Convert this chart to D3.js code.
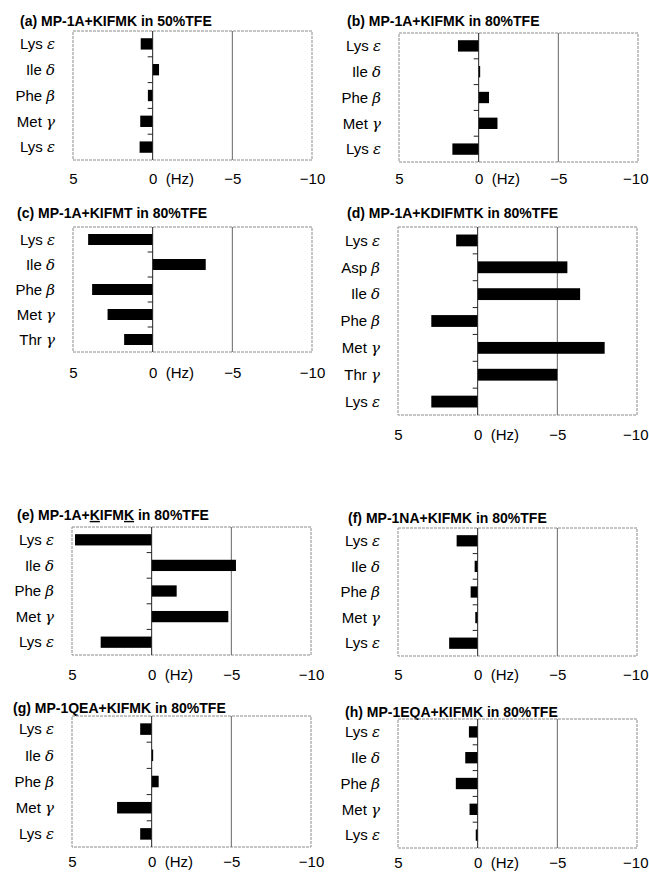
<!DOCTYPE html>
<html>
<head>
<meta charset="utf-8">
<script src="https://cdn.jsdelivr.net/npm/d3@7"></script>
<style>
  body { margin: 0; background: #fff; }
  svg text { font-family: "Liberation Sans", Arial, sans-serif; fill: #000; }
</style>
</head>
<body>
<div id="chart"></div>
<script>
// Chemical shift differences (Hz), 8 small panels

const titles = [
    "(a) MP-1A+KIFMK in 50%TFE",
    "(b) MP-1A+KIFMK in 80%TFE",
    "(c) MP-1A+KIFMT in 80%TFE",
    "(d) MP-1A+KDIFMTK in 80%TFE",
    "(e) MP-1A+KIFMK in 80%TFE",
    "(f) MP-1NA+KIFMK in 80%TFE",
    "(g) MP-1QEA+KIFMK in 80%TFE",
    "(h) MP-1EQA+KIFMK in 80%TFE"
];

// residue labels: [name, greek]
const labelsKIFMK = [["Lys", "ε"], ["Ile", "δ"], ["Phe", "β"], ["Met", "γ"], ["Lys", "ε"]];
const labelsKIFMT = [["Lys", "ε"], ["Ile", "δ"], ["Phe", "β"], ["Met", "γ"], ["Thr", "γ"]];
const labelsKDIFMTK = [["Lys", "ε"], ["Asp", "β"], ["Ile", "δ"], ["Phe", "β"], ["Met", "γ"], ["Thr", "γ"], ["Lys", "ε"]];

const valuesA = [0.75, -0.4, 0.3, 0.78, 0.82];
const valuesB = [1.3, -0.06, -0.65, -1.18, 1.65];
const valuesC = [4.05, -3.33, 3.8, 2.83, 1.79];
const valuesD = [1.35, -5.63, -6.43, 2.91, -7.97, -5.0, 2.91];
const valuesE = [4.81, -5.29, -1.57, -4.81, 3.2];
const valuesF = [1.32, 0.19, 0.44, 0.15, 1.79];
const valuesG = [0.72, -0.08, -0.44, 2.17, 0.72];
const valuesH = [0.55, 0.78, 1.37, 0.51, 0.12];

const xDomain = [5, -10];
const tickValues = [5, 0, -5, -10];
const gridValue = -5;

const panelLabels = [labelsKIFMK, labelsKIFMK, labelsKIFMT, labelsKDIFMTK,
                     labelsKIFMK, labelsKIFMK, labelsKIFMK, labelsKIFMK];
const panelValues = [valuesA, valuesB, valuesC, valuesD, valuesE, valuesF, valuesG, valuesH];

// plot box placement for each panel
const layout = [
    { left: 73,  top: 31,  bottom: 160, titleX: 20,  titleY: 21,  tickY: 179 },
    { left: 399, top: 33,  bottom: 162, titleX: 347, titleY: 21,  tickY: 179 },
    { left: 73,  top: 227, bottom: 352, titleX: 17,  titleY: 213, tickY: 373 },
    { left: 398, top: 227, bottom: 415, titleX: 347, titleY: 213, tickY: 435 },
    { left: 72,  top: 527, bottom: 655, titleX: 17,  titleY: 515, tickY: 675 },
    { left: 398, top: 528, bottom: 656, titleX: 348, titleY: 518, tickY: 675 },
    { left: 72,  top: 716, bottom: 847, titleX: 13,  titleY: 708, tickY: 862 },
    { left: 398, top: 719, bottom: 848, titleX: 345, titleY: 712, tickY: 863 }
];
const plotWidth = 239;

const svg = d3.select("#chart")
    .append("svg")
    .attr("width", 649)
    .attr("height", 874);

panelValues.forEach((values, i) => {
    const L = layout[i];
    const labels = panelLabels[i];
    const g = svg.append("g");

    const x = d3.scaleLinear().domain(xDomain).range([L.left, L.left + plotWidth]);
    const y = d3.scaleBand()
        .domain(d3.range(values.length))
        .range([L.top, L.bottom])
        .paddingInner(0.56)
        .paddingOuter(0.28);

    // title (panel e has underlined K residues)
    const title = g.append("text")
        .attr("x", L.titleX)
        .attr("y", L.titleY)
        .attr("dy", "0.35em")
        .style("font-size", "14px")
        .style("font-weight", "bold");
    if (i === 4) {
        title.append("tspan").text("(e) MP-1A+");
        title.append("tspan").style("text-decoration", "underline").text("K");
        title.append("tspan").text("IFM");
        title.append("tspan").style("text-decoration", "underline").text("K");
        title.append("tspan").text(" in 80%TFE");
    } else {
        title.text(titles[i]);
    }

    // plot frame
    g.append("rect")
        .attr("x", L.left)
        .attr("y", L.top)
        .attr("width", plotWidth)
        .attr("height", L.bottom - L.top)
        .attr("fill", "none")
        .attr("stroke", "#8a8a8a")
        .attr("stroke-width", 1)
        .attr("stroke-dasharray", "3,1");

    // -5 gridline
    g.append("line")
        .attr("x1", x(gridValue)).attr("x2", x(gridValue))
        .attr("y1", L.top).attr("y2", L.bottom)
        .attr("stroke", "#666")
        .attr("stroke-width", 1);

    // bars
    g.selectAll(".bar")
        .data(values)
        .enter()
        .append("rect")
        .attr("class", "bar")
        .attr("x", d => Math.min(x(d), x(0)))
        .attr("y", (d, j) => y(j))
        .attr("width", d => Math.max(1.5, Math.abs(x(d) - x(0))))
        .attr("height", y.bandwidth())
        .attr("fill", "#000");

    // zero axis with small category ticks
    g.append("line")
        .attr("x1", x(0)).attr("x2", x(0))
        .attr("y1", L.top).attr("y2", L.bottom)
        .attr("stroke", "#222")
        .attr("stroke-width", 1);

    g.selectAll(".cat-tick")
        .data(d3.range(1, values.length))
        .enter()
        .append("line")
        .attr("x1", x(0) - 5).attr("x2", x(0))
        .attr("y1", j => y(j) - y.step() * y.paddingInner() / 2)
        .attr("y2", j => y(j) - y.step() * y.paddingInner() / 2)
        .attr("stroke", "#222")
        .attr("stroke-width", 1);

    // residue labels
    const lab = g.selectAll(".lab")
        .data(labels)
        .enter()
        .append("text")
        .attr("x", L.left - 18)
        .attr("y", (d, j) => y(j) + y.bandwidth() / 2)
        .attr("dy", "0.35em")
        .attr("text-anchor", "end")
        .style("font-size", "15px");
    lab.append("tspan").text(d => d[0] + " ");
    lab.append("tspan")
        .style("font-family", "'DejaVu Serif', 'Liberation Serif', serif")
        .style("font-style", "italic")
        .text(d => d[1]);

    // x axis labels
    const axis = g.append("g")
        .attr("transform", `translate(0,${L.tickY})`)
        .call(d3.axisBottom(x).tickValues(tickValues).tickSize(0).tickPadding(0));
    axis.select(".domain").remove();
    axis.selectAll("text")
        .attr("dy", "0.35em")
        .style("font-size", "15px")
        .style("font-family", "'Liberation Sans', Arial, sans-serif");
    // right-column -10 label sits against the page edge
    if (L.left + plotWidth > 600) {
        axis.selectAll(".tick")
            .filter(d => d === -10)
            .select("text")
            .attr("text-anchor", "end")
            .attr("x", 648 - x(-10));
    }

    g.append("text")
        .attr("x", x(0) + 13)
        .attr("y", L.tickY)
        .attr("dy", "0.35em")
        .style("font-size", "15px")
        .text("(Hz)");
});
</script>
</body>
</html>
